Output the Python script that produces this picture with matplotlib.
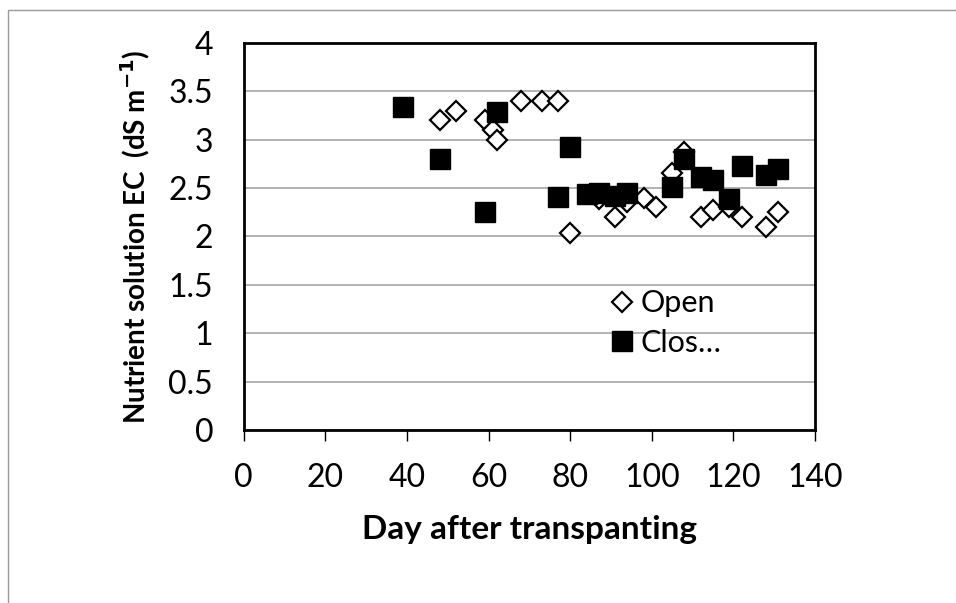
import matplotlib

matplotlib.use("Agg")
import matplotlib.pyplot as plt
from matplotlib.patches import Rectangle

plt.rcParams["font.family"] = ["Lato", "DejaVu Sans"]

# Open system (diamonds)
open_day = [48, 52, 59, 61, 62, 68, 73, 77, 80, 87, 91, 94, 98, 101, 105, 108, 112, 115, 119, 122, 128, 131]
open_ec = [3.2, 3.3, 3.2, 3.1, 3.0, 3.4, 3.4, 3.4, 2.03, 2.39, 2.2, 2.36, 2.4, 2.3, 2.65, 2.87, 2.2, 2.27, 2.3, 2.2, 2.1, 2.25]

# Closed system (squares)
closed_day = [39, 48, 59, 62, 77, 80, 84, 87, 91, 94, 105, 108, 112, 115, 119, 122, 128, 131]
closed_ec = [3.34, 2.8, 2.25, 3.29, 2.41, 2.92, 2.44, 2.45, 2.42, 2.45, 2.51, 2.8, 2.61, 2.58, 2.39, 2.73, 2.63, 2.7]

x_ticks = [0, 20, 40, 60, 80, 100, 120, 140]
y_ticks = [0, 0.5, 1, 1.5, 2, 2.5, 3, 3.5, 4]
y_tick_labels = ["0", "0.5", "1", "1.5", "2", "2.5", "3", "3.5", "4"]

fig = plt.figure(figsize=(9.56, 6.03), dpi=100)
fig.patches.append(Rectangle((8 / 956, -0.01), 1.0, 1 - 10 / 603 + 0.01, transform=fig.transFigure,
                             fill=False, edgecolor="#9a9a9a", linewidth=1.0))

ax = fig.add_axes([0.255, 0.287, 0.5975, 0.642])

ax.plot(open_day, open_ec, linestyle="none", marker="D", markersize=10.5,
        markerfacecolor="white", markeredgecolor="black", markeredgewidth=1.6, label="Open", zorder=3)
ax.plot(closed_day, closed_ec, linestyle="none", marker="s", markersize=14,
        markerfacecolor="black", markeredgecolor="black", label="Clos…", zorder=4)

ax.set_xlim(0, 140)
ax.set_ylim(0, 4)
ax.set_xticks(x_ticks)
ax.set_yticks(y_ticks)
ax.set_yticklabels(y_tick_labels)
ax.yaxis.grid(True, color="#a6a6a6", linewidth=1.2)
ax.set_axisbelow(True)

for s in ax.spines.values():
    s.set_linewidth(2.0)
    s.set_color("black")

ax.tick_params(axis="x", direction="out", length=8, width=1.0, labelsize=23, pad=16)
ax.tick_params(axis="y", length=0, labelsize=23, pad=22)

ax.set_xlabel("Day after transpanting", fontsize=24, fontweight="bold", labelpad=16)
ax.set_ylabel("Nutrient solution EC  (dS m$^{\\mathbf{-1}}$)", fontsize=20, fontweight="bold", labelpad=12)

ax.legend(loc="upper left", bbox_to_anchor=(0.625, 0.395), frameon=False, fontsize=22,
          handlelength=0.6, handletextpad=0.3, labelspacing=0.38, borderaxespad=0)

fig.savefig("out.png", dpi=100)
